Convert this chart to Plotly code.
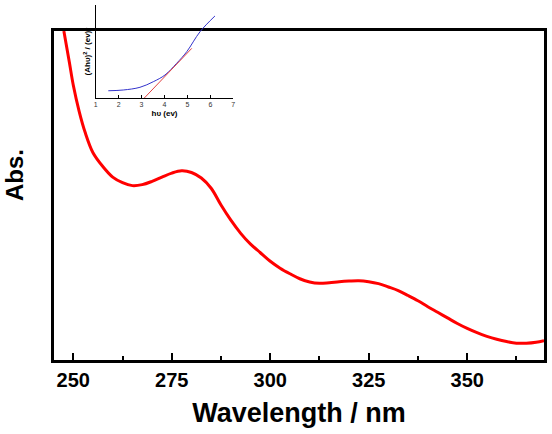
import plotly.graph_objects as go

# Main UV-Vis spectrum (normalized absorbance)
wavelength = [247.6, 249.0, 250.0, 251.5, 253.0, 255.0, 257.5, 260.0, 262.5, 265.0,
              267.5, 270.0, 272.5, 275.0, 277.5, 280.0, 282.5, 285.0, 287.5, 290.0,
              292.5, 295.0, 297.5, 300.0, 302.5, 305.0, 307.5, 310.0, 312.5, 315.0,
              317.5, 320.0, 322.5, 325.0, 327.5, 330.0, 332.5, 335.0, 337.5, 340.0,
              342.5, 345.0, 347.5, 350.0, 352.5, 355.0, 357.5, 360.0, 362.5, 365.0,
              367.5, 369.5]
absorbance = [1.000, 0.905, 0.835, 0.755, 0.692, 0.630, 0.588, 0.556, 0.539, 0.530,
              0.533, 0.543, 0.556, 0.568, 0.575, 0.570, 0.553, 0.522, 0.471, 0.425,
              0.385, 0.352, 0.326, 0.300, 0.279, 0.262, 0.247, 0.237, 0.233, 0.235,
              0.238, 0.240, 0.241, 0.238, 0.232, 0.222, 0.211, 0.196, 0.180, 0.162,
              0.145, 0.128, 0.111, 0.096, 0.083, 0.072, 0.063, 0.056, 0.051, 0.051,
              0.054, 0.059]

# Inset: Tauc plot
hv = [1.55, 2.20, 2.93, 3.51, 4.02, 4.53, 4.97, 5.55, 6.20]
tauc = [0.078, 0.086, 0.115, 0.175, 0.247, 0.373, 0.498, 0.713, 0.882]
fit_hv = [3.12, 5.19]
fit_y = [0.0, 0.534]

xticks = [250, 275, 300, 325, 350]
inset_ticks = [1, 2, 3, 4, 5, 6, 7]

W, H = 552, 434
ml, mr, mt, mb = 54, 8, 5, 74
ph = H - mt - mb  # 355
pw = W - ml - mr

fig = go.Figure()
fig.add_trace(go.Scatter(x=wavelength, y=absorbance, mode="lines",
                         line=dict(color="#ff0000", width=3, shape="spline", smoothing=1.0),
                         xaxis="x", yaxis="y", showlegend=False, hoverinfo="skip"))
fig.add_trace(go.Scatter(x=hv, y=tauc, mode="lines",
                         line=dict(color="#3333cc", width=1, shape="spline"),
                         xaxis="x2", yaxis="y2", showlegend=False, hoverinfo="skip"))
fig.add_trace(go.Scatter(x=fit_hv, y=fit_y, mode="lines",
                         line=dict(color="#e04040", width=1),
                         xaxis="x2", yaxis="y2", showlegend=False, hoverinfo="skip"))

font_main = "Liberation Sans, Arial, sans-serif"
main_dom_top = (360 - 31) / ph

fig.update_layout(
    width=W, height=H,
    margin=dict(l=ml, r=mr, t=mt, b=mb),
    paper_bgcolor="white", plot_bgcolor="rgba(0,0,0,0)",
    font=dict(family=font_main, color="black"),
    xaxis=dict(domain=[0, 1], range=[245.1, 369.5], tickvals=xticks,
               ticktext=[f"<b>{t}</b>" for t in xticks],
               ticks="inside", ticklen=7, tickwidth=2, tickcolor="black",
               minor=dict(ticks="inside", ticklen=4, tickwidth=1.5, dtick=12.5, tickcolor="black"),
               showline=True, linewidth=2.5, linecolor="black", mirror=True,
               showgrid=False, zeroline=False,
               tickfont=dict(size=20, color="black"),
               title=dict(text="<b>Wavelength / nm</b>", font=dict(size=27), standoff=14)),
    yaxis=dict(domain=[0, main_dom_top], range=[0, 1], showticklabels=False, ticks="",
               showline=True, linewidth=2.5, linecolor="black", mirror=True,
               showgrid=False, zeroline=False),
    xaxis2=dict(domain=[(95.7 - ml) / pw, (233.3 - ml) / pw],
                anchor="y2", range=[1, 7], tickvals=inset_ticks,
                ticks="inside", ticklen=3, tickwidth=1, tickcolor="black",
                showline=True, linewidth=1, linecolor="black",
                showgrid=False, zeroline=False,
                tickfont=dict(size=7, color="#333"),
                title=dict(text="<b>h\u03c5 (ev)</b>", font=dict(size=8), standoff=2)),
    yaxis2=dict(domain=[(360 - 98) / ph, 1], anchor="x2", range=[0, 1],
                showticklabels=False, ticks="",
                showline=True, linewidth=1, linecolor="black",
                showgrid=False, zeroline=False,
                title=dict(text="<b>(Ah\u03c5)<sup>2</sup> / (ev)<sup>2</sup></b>",
                           font=dict(size=8), standoff=2)),
    annotations=[dict(text="<b>Abs.</b>", xref="paper", yref="paper",
                      x=-(ml - 14) / pw, y=(360 - 175) / ph,
                      xanchor="center", yanchor="middle", textangle=-90,
                      showarrow=False, font=dict(size=24, color="black"))],
)

fig.write_html("out.html")
